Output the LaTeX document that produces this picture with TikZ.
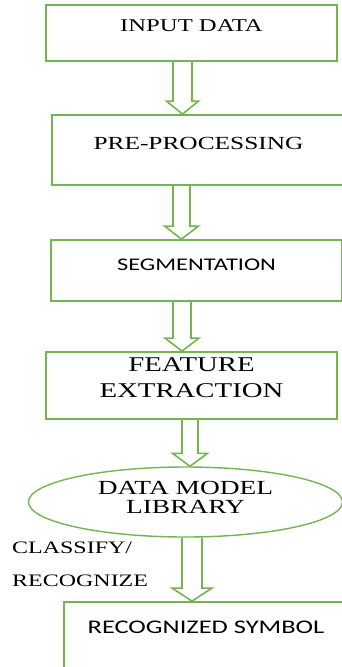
\documentclass[tikz,border=0pt]{standalone}
\usepackage{fontspec}
\setmainfont{Liberation Serif}[FakeStretch=1.37]
\newfontfamily\boxsans{Carlito}[FakeStretch=1.37]
\usepackage{tikz}
\usetikzlibrary{shapes.geometric, calc}
\definecolor{boxgreen}{RGB}{118,180,80}

% hollow block arrow: from node, to node, centre x, shaft half width, head half width
\newcommand{\flowarrow}[5]{%
  \draw[flow] let \p1=(#1.south), \p2=(#2.north) in
    (#3pt-#4pt,\y1) -- (#3pt-#4pt,\y2+13pt) -- (#3pt-#5pt,\y2+13pt) -- (#3pt,\y2)
    -- (#3pt+#5pt,\y2+13pt) -- (#3pt+#4pt,\y2+13pt) -- (#3pt+#4pt,\y1);}

\begin{document}
\begin{tikzpicture}[x=1pt,y=-1pt,inner sep=0pt]
\tikzstyle{box} = [rectangle, draw=boxgreen, line width=1.8pt, fill=white]
\tikzstyle{libnode} = [ellipse, draw=boxgreen, line width=1.4pt, fill=white]
\tikzstyle{flow} = [draw=boxgreen, line width=1.6pt, line join=miter]

\useasboundingbox[fill=white] (0,0) rectangle (342,667);

\node (in) at (191.5,33) [box, minimum width=291pt, minimum height=56pt,
  text height=12pt, text depth=16pt, font=\fontsize{18}{22}\selectfont] {INPUT DATA};
\node (pre) at (198.5,150) [box, minimum width=293pt, minimum height=70pt,
  text height=12.3pt, text depth=14.3pt, font=\fontsize{18.5}{22}\selectfont] {PRE-PROCESSING};
\node (seg) at (196.5,270.5) [box, minimum width=291pt, minimum height=61pt,
  text height=11.7pt, text depth=12.7pt, font=\boxsans\fontsize{17.8}{22}\selectfont] {SEGMENTATION};
\node (feat) at (191.5,385.5) [box, minimum width=291pt, minimum height=67pt, align=center,
  text height=40pt, text depth=17pt, font=\fontsize{21}{26}\selectfont] {FEATURE\\EXTRACTION};
\node (lib) at (185.5,502) [libnode, minimum width=314pt, minimum height=70pt, align=center,
  text height=32pt, text depth=10pt, font=\fontsize{20}{19}\selectfont] {DATA MODEL\\LIBRARY};
\node (rec) at (206,641) [box, minimum width=284pt, minimum height=78pt,
  text height=11pt, text depth=27pt, font=\boxsans\fontsize{19.3}{22}\selectfont] {RECOGNIZED SYMBOL};
\node (cls) at (12,586) [anchor=base west, align=left,
  font=\fontsize{17.5}{33}\selectfont] {CLASSIFY/\\RECOGNIZE};

\flowarrow{in}{pre}{182.5}{9.5}{16}
\flowarrow{pre}{seg}{181.5}{8.5}{17}
\flowarrow{seg}{feat}{182}{9}{17}
\flowarrow{feat}{lib}{190}{8}{17.5}
\flowarrow{lib}{rec}{192}{10}{20}

\end{tikzpicture}
\end{document}
